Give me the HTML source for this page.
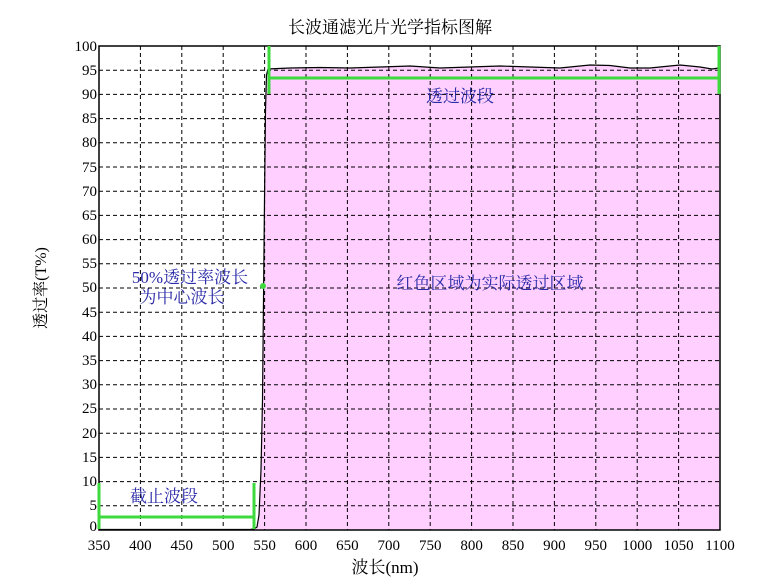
<!DOCTYPE html>
<html><head><meta charset="utf-8"><style>
body{margin:0;background:#fff;}
svg{display:block;font-family:"Liberation Serif","Noto Serif CJK SC","Noto Sans CJK SC",serif;}
</style></head><body>
<svg width="781" height="585" viewBox="0 0 781 585" xmlns="http://www.w3.org/2000/svg">
<rect width="781" height="585" fill="#fff"/>
<path d="M254,530 L257,527 L259,515 L261,470 L262.5,400 L263.5,300 L264.5,200 L265.5,110 L266.5,75 L268,69 L290,68 L320,67.5 L350,68 L380,67 L410,66 L440,68 L470,67 L500,66 L530,67 L560,68 L590,65 L610,65.5 L630,68 L650,68 L680,65 L700,67 L712,69 L719,68 L720,68 L720,530 Z" fill="#ffd0ff"/>
<g stroke="#000" stroke-width="1" stroke-dasharray="4,3">
<line x1="140.4" y1="46" x2="140.4" y2="530"/><line x1="181.8" y1="46" x2="181.8" y2="530"/><line x1="223.2" y1="46" x2="223.2" y2="530"/><line x1="264.6" y1="46" x2="264.6" y2="530"/><line x1="306" y1="46" x2="306" y2="530"/><line x1="347.4" y1="46" x2="347.4" y2="530"/><line x1="388.8" y1="46" x2="388.8" y2="530"/><line x1="430.2" y1="46" x2="430.2" y2="530"/><line x1="471.6" y1="46" x2="471.6" y2="530"/><line x1="513" y1="46" x2="513" y2="530"/><line x1="554.4" y1="46" x2="554.4" y2="530"/><line x1="595.8" y1="46" x2="595.8" y2="530"/><line x1="637.2" y1="46" x2="637.2" y2="530"/><line x1="678.6" y1="46" x2="678.6" y2="530"/>
<line x1="99" y1="70.2" x2="720" y2="70.2"/><line x1="99" y1="94.4" x2="720" y2="94.4"/><line x1="99" y1="118.6" x2="720" y2="118.6"/><line x1="99" y1="142.8" x2="720" y2="142.8"/><line x1="99" y1="167" x2="720" y2="167"/><line x1="99" y1="191.2" x2="720" y2="191.2"/><line x1="99" y1="215.4" x2="720" y2="215.4"/><line x1="99" y1="239.6" x2="720" y2="239.6"/><line x1="99" y1="263.8" x2="720" y2="263.8"/><line x1="99" y1="288" x2="720" y2="288"/><line x1="99" y1="312.2" x2="720" y2="312.2"/><line x1="99" y1="336.4" x2="720" y2="336.4"/><line x1="99" y1="360.6" x2="720" y2="360.6"/><line x1="99" y1="384.8" x2="720" y2="384.8"/><line x1="99" y1="409" x2="720" y2="409"/><line x1="99" y1="433.2" x2="720" y2="433.2"/><line x1="99" y1="457.4" x2="720" y2="457.4"/><line x1="99" y1="481.6" x2="720" y2="481.6"/><line x1="99" y1="505.8" x2="720" y2="505.8"/>
</g>
<path d="M99,529.5 L250,529.5 L254,529 L257,527 L259,515 L261,470 L262.5,400 L263.5,300 L264.5,200 L265.5,110 L266.5,75 L268,69 L290,68 L320,67.5 L350,68 L380,67 L410,66 L440,68 L470,67 L500,66 L530,67 L560,68 L590,65 L610,65.5 L630,68 L650,68 L680,65 L700,67 L712,69 L719,68" fill="none" stroke="#000" stroke-width="1.2"/>
<rect x="99" y="46" width="621" height="484" fill="none" stroke="#000" stroke-width="1.5"/>
<g stroke="#3dd93d" stroke-width="3" fill="none">
<line x1="99" y1="483" x2="99" y2="529"/><line x1="254" y1="483" x2="254" y2="529"/><line x1="99" y1="517" x2="254" y2="517"/>
<line x1="269" y1="46" x2="269" y2="94"/><line x1="719" y1="46" x2="719" y2="94"/><line x1="269" y1="78" x2="719" y2="78"/>
</g>
<circle cx="263" cy="286" r="3" fill="#3dd93d"/>
<text x="390" y="33" font-size="17" text-anchor="middle" fill="#000">长波通滤光片光学指标图解</text>
<g font-size="15" fill="#000" text-anchor="end">
<text x="97" y="51">100</text><text x="97" y="75">95</text><text x="97" y="99">90</text><text x="97" y="123">85</text><text x="97" y="147">80</text><text x="97" y="172">75</text><text x="97" y="196">70</text><text x="97" y="220">65</text><text x="97" y="244">60</text><text x="97" y="268">55</text><text x="97" y="292">50</text><text x="97" y="317">45</text><text x="97" y="341">40</text><text x="97" y="365">35</text><text x="97" y="389">30</text><text x="97" y="413">25</text><text x="97" y="438">20</text><text x="97" y="462">15</text><text x="97" y="486">10</text><text x="97" y="510">5</text><text x="97" y="531">0</text>
</g>
<g font-size="15" fill="#000" text-anchor="middle">
<text x="99" y="550">350</text><text x="140.4" y="550">400</text><text x="181.8" y="550">450</text><text x="223.2" y="550">500</text><text x="264.6" y="550">550</text><text x="306" y="550">600</text><text x="347.4" y="550">650</text><text x="388.8" y="550">700</text><text x="430.2" y="550">750</text><text x="471.6" y="550">800</text><text x="513" y="550">850</text><text x="554.4" y="550">900</text><text x="595.8" y="550">950</text><text x="637.2" y="550">1000</text><text x="678.6" y="550">1050</text><text x="720" y="550">1100</text>
<text x="385" y="573" font-size="17">波长(nm)</text>
</g>
<text transform="translate(46,288) rotate(-90)" font-size="16" text-anchor="middle" fill="#000">透过率(T%)</text>
<g fill="#2a2aa8" font-size="17" font-family="'Liberation Serif','Noto Serif CJK SC',serif">
<text x="164" y="502" text-anchor="middle">截止波段</text>
<text x="460" y="102" text-anchor="middle">透过波段</text>
<text x="490" y="289" text-anchor="middle">红色区域为实际透过区域</text>
<text x="190" y="283" text-anchor="middle">50%透过率波长</text>
<text x="182" y="303" text-anchor="middle">为中心波长</text>
</g>
</svg>
</body></html>
